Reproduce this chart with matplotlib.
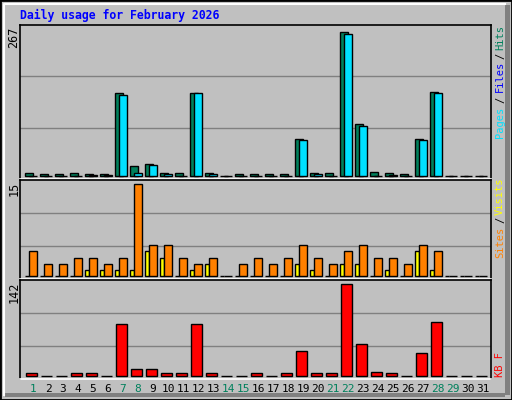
import matplotlib
matplotlib.use("Agg")
import matplotlib.pyplot as plt
from matplotlib.patches import Rectangle
import numpy as np

days = list(range(1, 32))
hits  = [6,4,4,6,4,4,150,19,22,6,6,150,6,0,4,4,4,4,68,6,6,261,95,8,6,4,68,153,0,0,0]
files = [0,0,0,0,2,2,148,6,20,4,0,150,4,0,0,0,0,0,66,4,0,258,91,0,2,0,66,150,0,0,0]
sites = [4,2,2,3,3,2,3,15,5,5,3,2,3,0,2,3,2,3,5,3,2,4,5,3,3,2,5,4,0,0,0]
visits= [0,0,0,0,1,1,1,1,4,3,0,1,2,0,0,0,0,0,2,1,0,2,2,0,1,0,4,1,0,0,0]
kb    = [4,0.5,0.5,4,4,0.5,80,11,11,4,4,81,4,0,0.5,4,0.5,4,38,4,4,142,50,6,4,0.5,36,83,0,0,0]
weekend = [1,7,8,14,15,21,22,28,29]
title = "Daily usage for February 2026"

W, H = 512, 400
fig = plt.figure(figsize=(W/100, H/100), dpi=100)
fig.patch.set_facecolor("#C0C0C0")
def fx(x): return x / W
def fy(y): return 1 - y / H

fig.patches.append(Rectangle((0, 0), 1, 1, transform=fig.transFigure, fill=False, ec="black", lw=2))
fig.patches.append(Rectangle((fx(505), fy(395)), fx(5), fy(5) - fy(395), transform=fig.transFigure, fc="#808080", ec="none"))
fig.patches.append(Rectangle((fx(5), fy(397)), fx(505) - fx(5), fy(393) - fy(397), transform=fig.transFigure, fc="#808080", ec="none"))
fig.lines.append(plt.Line2D([fx(4), fx(4), fx(505)], [fy(395), fy(4), fy(4)], transform=fig.transFigure, color="white", lw=1.5))

MONO = "DejaVu Sans Mono"
fig.text(fx(20), fy(15), title, color="#0000FF", fontweight="bold", family=MONO, fontsize=8.3, va="center", ha="left")

X0, X1 = 20, 490.7
xlim = (1 + (X0 - 33) / 15, 1 + (X1 - 33) / 15)
d = np.array(days)

def mkax(top, bot, maxv, label):
    ax = fig.add_axes([fx(X0), fy(bot), fx(X1) - fx(X0), fy(top) - fy(bot)])
    ax.set_facecolor("#C0C0C0")
    ax.set_xlim(*xlim)
    h = bot - top
    ppu = (h - 7) / maxv          # pixels per unit; base 3px above bottom, top 4px below top
    ax.set_ylim(-3 / ppu, (h - 3) / ppu)
    for f in (1/3, 2/3):
        ax.axhline(-3 / ppu + (h / ppu) * f, color="#808080", lw=1, zorder=0)
    ax.set_xticks([]); ax.set_yticks([])
    for s in ax.spines.values():
        s.set_color("black"); s.set_linewidth(1.2)
    ax.spines["bottom"].set_color("white")
    fig.text(fx(14), fy(top + 2), label, rotation=90, family=MONO, fontsize=8.5, ha="center", va="top")
    return ax

ax1 = mkax(25, 179, 267, "267")
ax1.bar(d - 0.53, hits, width=0.51, align="edge", color="#00805C", ec="black", lw=1, zorder=2)
ax1.bar(d - 0.27, files, width=0.51, align="edge", color="#00E0FF", ec="black", lw=1, zorder=3)

ax2 = mkax(180, 279, 15, "15")
ax2.bar(d - 0.53, visits, width=0.28, align="edge", color="#FFFF00", ec="black", lw=1, zorder=2)
ax2.bar(d - 0.25, sites, width=0.5, align="edge", color="#FF8000", ec="black", lw=1, zorder=3)

ax3 = mkax(280, 379, 142, "142")
ax3.bar(d - 0.47, kb, width=0.72, align="edge", color="#FF0000", ec="black", lw=1, zorder=2)

for i in days:
    fig.text(fx(33 + 15 * (i - 1)), fy(389), str(i), family=MONO, fontsize=8,
             color="#00805C" if i in weekend else "black", ha="center", va="center")

def rtext(y0, y1, s, c):
    fig.text(fx(500), fy((y0 + y1) / 2), s, rotation=90, color=c, family=MONO, fontsize=7.5, ha="center", va="center")

rtext(107, 137, "Pages", "#00E0FF"); rtext(96, 104, "/", "black")
rtext(63, 90, "Files", "#0000FF"); rtext(51, 60, "/", "black")
rtext(27, 49, "Hits", "#00805C")
rtext(228, 256, "Sites", "#FF8000"); rtext(216, 224, "/", "black")
rtext(180, 213, "Visits", "#FFFF00")
rtext(352, 377, "KB F", "#FF0000")

fig.savefig("out.png", dpi=100, facecolor=fig.get_facecolor())
